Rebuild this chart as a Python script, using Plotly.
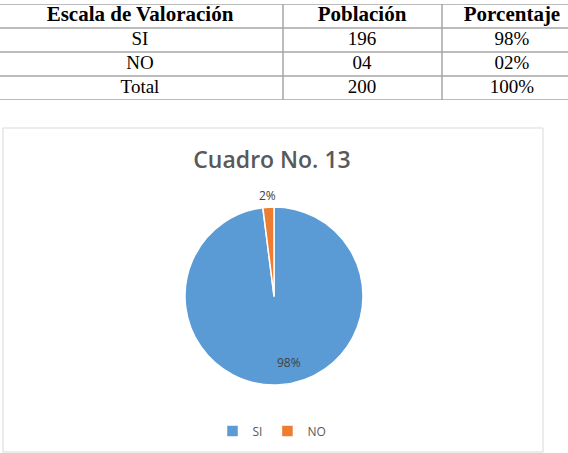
import math
import plotly.graph_objects as go

# Table data
header_labels = ["Escala de Valoración", "Población", "Porcentaje"]
categories = ["SI", "NO", "Total"]
poblacion = ["196", "04", "200"]
porcentaje = ["98%", "02%", "100%"]

# Pie data
pie_labels = ["SI", "NO"]
pie_values = [196, 4]

W, H = 568, 453
fig = go.Figure()

# ---- Table drawn on a hidden cartesian axis (columns in px, rows by index)
col_centers = [140, 362, 512]
col_borders = [283, 442]
columns = [categories, poblacion, porcentaje]
n_rows = len(categories) + 1

fig.add_trace(go.Scatter(
    x=col_centers, y=[0] * len(header_labels),
    text=[f"<b>{h}</b>" for h in header_labels],
    mode="text", textposition="middle center",
    textfont=dict(family="Liberation Serif", size=21, color="black"),
    hoverinfo="skip", showlegend=False,
))
body_x, body_y, body_t = [], [], []
for ci, col in enumerate(columns):
    for ri, val in enumerate(col):
        body_x.append(col_centers[ci])
        body_y.append(ri + 1)
        body_t.append(val)
fig.add_trace(go.Scatter(
    x=body_x, y=body_y, text=body_t,
    mode="text", textposition="middle center",
    textfont=dict(family="Liberation Serif", size=19, color="black"),
    hoverinfo="skip", showlegend=False,
))

line_style = dict(color="#a6a6a6", width=1.5)
shapes = []
for b in range(n_rows + 1):
    shapes.append(dict(type="line", xref="paper", yref="y",
                       x0=0, x1=1, y0=b - 0.5, y1=b - 0.5, line=line_style))
for xb in col_borders:
    shapes.append(dict(type="line", xref="x", yref="y",
                       x0=xb, x1=xb, y0=-0.5, y1=n_rows - 0.5, line=line_style))

# ---- Pie
pie_cx, pie_cy, pie_r = 274, 296, 89
fig.add_trace(go.Pie(
    labels=pie_labels,
    values=pie_values,
    sort=False,
    direction="clockwise",
    rotation=0,
    marker=dict(colors=["#5B9BD5", "#ED7D31"], line=dict(color="white", width=1.5)),
    textinfo="none",
    domain=dict(
        x=[(pie_cx - pie_r) / W, (pie_cx + pie_r) / W],
        y=[(H - pie_cy - pie_r) / H, (H - pie_cy + pie_r) / H],
    ),
    showlegend=True,
))

# Data labels placed at each slice's mid-angle (Excel style)
total = sum(pie_values)
annotations = []
start = 0.0
for v in pie_values:
    frac = v / total
    mid = math.radians((start + frac / 2) * 360)
    start += frac
    if frac > 0.1:
        rr = 0.87 * pie_r
        dx = 10
    else:
        rr = pie_r + 12
        dx = 0
    lx = pie_cx + rr * math.sin(mid) + dx
    ly = pie_cy - rr * math.cos(mid)
    annotations.append(dict(
        x=lx / W, y=1 - ly / H, xref="paper", yref="paper",
        text=f"{round(100 * frac)}%", showarrow=False,
        font=dict(family="Open Sans", size=12, color="#404040"),
    ))

fig.update_layout(
    width=W, height=H,
    margin=dict(l=0, r=0, t=0, b=0),
    paper_bgcolor="white",
    plot_bgcolor="white",
    xaxis=dict(range=[0, W], domain=[0, 1], visible=False, fixedrange=True),
    yaxis=dict(range=[n_rows - 0.5, -0.5], domain=[1 - 100 / H, 1 - 4 / H],
               visible=False, fixedrange=True),
    title=dict(
        text="Cuadro No. 13",
        x=272 / W, xanchor="center",
        y=(H - 160) / H, yanchor="middle",
        font=dict(family="Open Sans", size=23, color="#595959", weight=600),
    ),
    legend=dict(
        orientation="h",
        x=272 / W, xanchor="center",
        y=(H - 431) / H, yanchor="middle",
        font=dict(family="Open Sans", size=12, color="#595959"),
        itemwidth=30,
    ),
    shapes=shapes + [dict(
        type="rect", xref="paper", yref="paper",
        x0=3 / W, x1=543 / W, y0=1 / H, y1=(H - 128) / H,
        line=dict(color="#d9d9d9", width=1), layer="below",
    )],
    annotations=annotations,
)

fig.write_html("out.html")
